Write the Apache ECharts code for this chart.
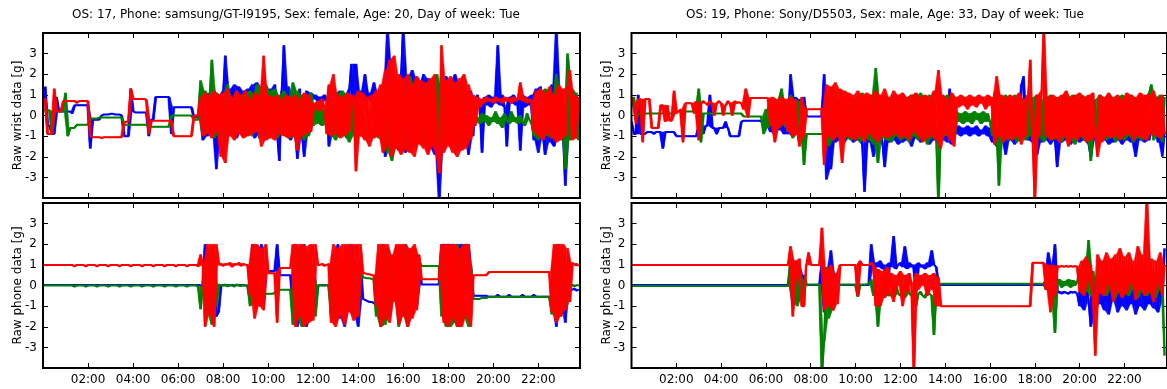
<!DOCTYPE html>
<html>
<head>
<meta charset="utf-8">
<script src="https://cdn.jsdelivr.net/npm/echarts@6/dist/echarts.min.js"></script>
<style>
  html, body { margin: 0; padding: 0; background: #fff; }
  #chart { width: 1167px; height: 389px; }
</style>
</head>
<body>
<div id="chart"></div>
<script>
// Accelerometer traces sampled every 0.1 h (6 min), one row of values per hour.
const SAMPLE_STEP_H = 0.1;

const titles = [
  'OS: 17, Phone: samsung/GT-I9195, Sex: female, Age: 20, Day of week: Tue',
  'OS: 19, Phone: Sony/D5503, Sex: male, Age: 33, Day of week: Tue'
];
const yNames = ['Raw wrist data [g]', 'Raw phone data [g]'];
const hourTicks = [2, 4, 6, 8, 10, 12, 14, 16, 18, 20, 22];
const gTicks = [-3, -2, -1, 0, 1, 2, 3];

// ---- Subject A, wrist sensor ----
const wristA_x = [
  0.9,1.4,-0.5,-0.5,-0.9,-0.9,0.9,0.2,0.2,0.2,
  0.2,0.2,0.2,0.1,0.5,0.5,0.5,0.5,0.5,0.5,
  0.5,-1.6,-0.2,-0.2,-0.2,-0.2,0.0,0.05,0.05,0.05,
  0.08,0.08,0.05,0.05,0.05,0.0,-1.0,-1.0,-1.0,1.3,
  0.2,0.15,0.15,0.15,0.15,0.15,0.15,-1.0,-0.2,-0.2,
  0.9,0.9,0.9,0.9,0.9,0.9,0.9,-0.9,0.4,0.4,
  0.4,0.4,0.4,0.4,0.4,0.4,0.4,-0.1,-0.1,0.0,
  1.0,-1.2,0.9,-1.0,1.1,-0.9,1.2,-2.6,1.0,-1.1,
  1.2,2.9,-1.0,1.3,-0.9,1.5,-1.1,1.4,-0.8,1.2,
  -1.0,1.3,-0.8,1.5,-1.1,1.6,-0.9,1.4,-1.0,1.2,
  -1.1,1.3,-0.9,1.5,-1.0,-2.2,1.2,3.4,-1.0,1.4,
  -1.2,1.0,-0.9,-2.1,1.3,-1.0,-2.0,1.2,-0.9,1.1,
  0.8,1.0,0.7,0.9,0.6,1.0,0.8,-1.5,1.2,-0.8,
  1.1,-1.0,1.2,-0.8,1.0,-1.1,1.3,2.5,-0.9,2.5,
  0.8,1.2,0.9,2.0,0.8,1.1,0.7,1.6,-0.5,1.0,
  -1.0,1.4,-2.0,4.3,-1.6,2.4,-1.5,1.8,-1.7,2.0,
  4.3,-1.8,1.9,-1.6,2.2,-1.5,1.8,-1.3,1.6,2.0,
  -1.5,1.8,-1.6,1.7,-1.9,1.5,-4.3,1.6,-1.5,1.9,
  -1.4,1.7,-1.6,2.0,-1.7,1.6,-1.5,1.8,-1.2,-1.9,
  1.2,-1.0,0.6,1.0,0.4,-1.8,0.9,0.5,1.0,0.4,
  0.9,0.6,3.4,0.5,1.0,0.4,-1.5,0.9,0.6,1.0,
  0.5,0.8,-1.7,1.0,0.4,0.9,0.5,1.0,-1.2,1.3,
  -1.8,1.4,-1.0,-1.9,1.2,-1.3,1.5,-1.5,4.3,-1.0,
  1.3,-1.2,-3.4,2.8,-1.0,1.2,-1.1,1.0,-0.9
];
const wristA_y = [
  0.25,0.25,0.25,0.25,-0.9,0.2,0.2,0.2,0.2,0.2,
  1.1,-1.0,-0.6,-0.6,-0.6,-0.45,-0.45,-0.45,-0.45,-0.45,
  -0.45,-0.15,-0.15,-0.15,-0.15,-0.1,-0.1,-0.1,-0.1,-0.1,
  -0.1,-0.1,-0.1,-0.1,-0.1,-0.1,-0.45,-0.45,-0.45,-0.45,
  -0.45,-0.45,-0.45,-0.45,-0.45,-0.45,-0.45,-0.55,-0.55,-0.55,
  -0.55,-0.55,-0.55,-0.55,-0.55,-0.55,-0.55,0.0,0.0,0.0,
  0.0,0.0,0.0,0.0,0.0,0.0,0.0,-0.2,-0.2,-0.2,
  1.7,-1.0,1.2,-0.9,1.0,2.7,-1.1,1.1,-0.9,1.0,
  -1.1,1.2,1.5,-1.0,0.9,-1.1,1.2,-0.8,1.0,-1.0,
  1.1,-0.9,1.2,-1.0,1.0,1.5,-1.1,1.4,-0.9,1.5,
  -1.0,1.2,-0.8,1.3,-1.1,1.0,-0.9,1.2,-1.0,0.9,
  -1.1,1.6,-1.0,1.2,-0.9,1.0,-1.2,0.9,-1.0,1.1,
  -0.5,0.4,-0.4,0.5,-0.5,0.3,-0.4,1.3,-1.0,1.0,
  -1.2,1.1,-0.9,1.2,-1.0,1.0,-1.3,0.9,-1.0,0.8,
  -0.6,-1.0,-0.5,-0.9,-0.7,-1.0,-0.6,-0.9,-0.5,-1.1,
  1.2,-1.4,1.6,-1.8,1.5,-2.2,1.4,-1.5,1.7,-1.3,
  1.5,-1.6,1.2,1.9,-1.5,1.4,-1.2,1.6,-1.4,1.3,
  -1.5,1.6,-1.3,1.4,-1.6,2.0,-1.4,1.3,-1.5,1.2,
  -1.3,1.5,-1.6,1.4,-1.2,1.6,-1.5,1.3,-1.4,1.2,
  -1.0,0.9,-0.3,-0.1,-0.4,0.1,-0.3,0.0,-0.5,-0.1,
  -0.3,0.2,-0.4,-0.1,-0.6,0.1,-0.2,-0.4,0.2,-0.3,
  -0.1,-0.4,0.0,-0.3,-0.5,0.1,-0.2,-0.4,-1.0,1.0,
  -1.2,1.1,-0.9,1.3,-1.0,1.2,-1.1,1.0,2.0,-1.2,
  1.1,-1.0,-2.6,3.0,-1.2,1.3,-1.0,1.1,-1.2
];
const wristA_z = [
  0.8,0.8,-0.9,-0.9,-0.9,1.3,0.2,0.2,0.2,0.7,
  0.7,0.7,0.7,0.7,0.7,0.6,0.7,0.7,0.7,0.7,
  0.7,-1.0,-1.05,-1.05,-1.05,-1.05,-1.1,-1.05,-1.05,-1.05,
  -1.05,-1.05,-1.05,-1.05,-1.05,-1.05,-0.3,-0.3,-0.3,1.3,
  0.8,0.8,0.8,0.8,0.8,0.8,0.75,-0.9,-0.25,-0.25,
  -0.25,-0.25,-0.25,-0.25,-0.25,-0.25,-0.25,-0.25,-1.0,-1.0,
  -1.0,-1.0,-1.0,-1.0,-1.0,-1.0,-1.0,0.0,0.0,0.0,
  0.9,-1.0,1.1,-0.9,1.0,-1.1,1.2,-0.8,1.0,-2.0,
  1.1,-2.3,1.3,-1.0,0.9,-1.2,1.2,-0.9,1.0,-1.1,
  1.2,-1.0,0.8,-0.9,1.1,-0.8,1.0,-1.5,2.9,-1.2,
  1.0,-1.1,0.9,-1.2,1.0,-0.9,0.8,-1.0,1.0,-1.1,
  0.9,-1.0,1.0,-1.7,0.8,-1.0,1.1,-0.9,1.0,-0.8,
  0.6,0.3,0.7,0.2,0.8,0.4,-0.9,1.5,-1.0,2.0,
  -0.9,1.0,-1.1,0.9,-1.0,1.1,-0.8,1.0,0.9,-2.7,
  1.2,-1.0,1.1,-1.2,0.9,-1.5,1.0,-1.1,1.2,-1.0,
  1.5,-1.8,2.2,-1.5,2.7,-2.0,2.9,-1.6,2.0,-1.9,
  1.8,-1.7,2.0,-1.8,1.5,-2.0,1.9,-1.4,1.7,-1.6,
  1.6,-1.9,1.8,-1.5,2.0,-2.0,-2.8,3.4,-1.8,1.7,
  -1.5,1.9,-1.8,1.6,-2.0,1.8,-1.7,2.0,-1.6,1.5,
  -1.2,1.0,-0.5,0.9,0.4,0.8,0.6,0.9,0.7,0.8,
  0.6,0.9,0.7,0.8,0.6,0.9,0.7,0.85,0.6,0.9,
  0.7,0.8,1.6,0.7,0.9,0.6,0.8,0.7,-0.8,1.2,
  -1.0,1.3,-1.2,1.1,-0.9,1.4,-1.1,1.0,-1.3,1.5,
  -1.2,1.3,-1.0,1.4,2.2,-1.2,1.0,-1.1,0.9
];

// ---- Subject B, wrist sensor ----
const wristB_x = [
  -0.3,-0.9,-0.9,1.0,-0.9,-0.9,-0.9,-0.8,-0.8,-0.8,
  -0.9,-0.8,-0.8,-0.8,-1.6,-0.8,-0.8,-0.8,-0.8,-0.8,
  -1.0,-1.0,-1.0,-1.0,-1.0,-1.0,-1.0,-1.0,-1.0,-1.0,
  -0.5,-0.5,-0.9,-0.5,-0.5,1.0,-0.6,-0.6,-0.9,-0.6,
  -0.6,-0.6,-0.3,-0.6,-1.0,-1.0,-1.0,-1.0,-1.0,-0.3,
  -0.25,-0.25,-0.25,-0.25,-0.25,-0.25,-0.25,-0.25,-0.3,-0.25,
  -0.5,-0.3,-0.8,-0.4,-0.9,-0.5,-0.7,-0.3,-0.9,-0.6,
  -0.9,2.0,-1.0,0.9,-0.9,0.8,-1.0,0.9,-0.05,-0.05,
  -0.05,-0.05,-0.05,-0.05,-0.05,-0.05,2.0,-3.1,-1.2,-2.6,
  -0.5,-1.3,-0.4,-1.2,-0.6,-1.3,-0.5,-1.1,-0.7,-1.3,
  -0.5,-1.2,-0.6,-1.4,-3.7,-0.8,-1.3,-0.5,-2.0,-0.9,
  -1.2,-0.6,-1.4,-2.5,-0.7,-1.3,-0.5,-1.2,-0.8,-1.4,
  -0.6,-1.3,-0.5,-1.2,-0.8,-1.5,-0.6,-1.1,-0.7,-1.3,
  -0.5,-1.2,-0.6,-1.4,-0.7,-1.2,-0.6,-1.3,-0.5,-1.2,
  -0.6,-1.3,1.3,-1.4,-0.6,-0.9,-0.5,-1.0,-0.6,-0.9,
  -0.5,-1.0,-0.6,-0.9,-0.5,-1.0,-0.7,-0.9,-0.5,-1.0,
  -0.6,-1.3,-0.7,-1.5,-0.6,-1.2,-0.8,-1.9,-0.6,-1.2,
  -0.7,-1.4,-0.5,-1.2,1.5,1.9,-0.6,-1.2,-0.7,-1.3,
  -0.6,-1.9,-0.5,-1.3,-0.7,-1.2,-0.6,-1.4,-0.5,-1.2,
  -2.5,-0.7,-1.3,-0.6,-1.2,-0.8,-1.4,-0.6,-1.2,-0.7,
  -1.3,-0.5,-1.2,-0.8,-1.4,-2.0,-0.6,-1.2,-0.7,-1.3,
  -0.6,-1.2,-0.7,-1.4,-0.5,-1.3,-0.8,-1.2,-0.6,-1.4,
  -0.7,-1.2,-0.5,-1.3,-0.8,-2.0,-0.6,-1.2,-0.7,-1.3,
  -0.6,-1.2,-0.8,1.0,-0.7,-1.3,-0.6,-2.0,-0.8
];
const wristB_y = [
  0.5,0.9,-0.2,0.1,0.1,0.1,0.1,0.1,0.1,0.1,
  0.1,0.1,0.1,0.1,0.1,0.1,0.1,0.1,0.1,0.15,
  0.2,0.2,0.2,0.2,0.2,0.2,0.2,0.2,0.2,0.2,
  1.3,-1.3,0.1,0.1,0.1,0.1,0.1,0.1,0.1,0.1,
  0.1,0.1,0.1,0.1,0.1,0.1,0.1,0.1,0.1,0.1,
  -0.05,-0.05,-0.05,-0.05,-0.05,-0.05,-0.05,-0.05,-0.05,-0.9,
  0.3,-0.6,0.8,-0.4,0.5,-0.7,0.9,1.3,-0.5,0.4,
  -0.8,1.0,-1.1,0.8,-0.9,0.7,-1.0,-2.4,-0.9,-0.9,
  -0.9,-0.9,-0.9,-0.9,-0.9,-0.9,-0.9,1.0,-1.5,0.9,
  -1.2,1.0,-1.0,0.8,-1.3,0.9,-1.1,1.0,-1.2,0.8,
  -1.0,0.9,-1.3,1.1,-1.0,0.8,-1.2,1.0,-1.4,2.3,
  -2.3,0.9,-1.1,1.0,-1.2,0.8,-1.3,1.0,-1.0,0.9,
  -1.2,1.0,-1.1,0.9,-1.3,1.0,-1.0,0.9,-1.2,1.1,
  -1.0,0.9,-1.4,1.0,-1.1,0.8,-1.2,-4.3,-1.0,0.9,
  -1.0,1.0,-0.8,0.9,-1.2,0.2,-0.3,0.1,-0.4,0.2,
  -0.3,0.1,-0.4,0.2,-0.2,0.1,-0.4,0.2,-0.3,0.1,
  -0.3,-1.0,1.1,-1.0,-3.4,0.9,-1.1,1.0,-1.2,0.8,
  -1.0,1.0,-1.3,0.9,-1.1,0.8,-1.2,1.0,-1.0,0.9,
  -1.2,1.0,-1.1,0.8,-1.3,0.9,-1.0,1.0,-1.2,0.9,
  -1.1,0.8,-1.3,1.0,-1.0,0.9,-1.2,1.0,-1.4,0.8,
  -1.0,1.0,-1.2,0.9,-1.1,-2.2,-1.0,0.8,-1.3,1.0,
  -1.1,0.9,-1.2,1.0,-1.0,0.8,-1.3,0.9,-1.1,1.0,
  -1.2,0.9,-1.0,1.0,-1.3,0.8,-1.1,1.0,-1.2,0.9,
  -1.0,1.1,1.5,-1.2,0.9,-1.0,1.0,-1.3,0.9
];
const wristB_z = [
  0.9,0.5,-0.4,0.8,0.8,-1.3,0.8,0.8,0.8,-0.6,
  -0.6,-0.6,-0.6,0.5,0.5,-0.3,0.5,-0.25,-0.25,1.2,
  0.1,0.2,0.3,-1.3,0.6,0.6,0.6,0.6,0.1,0.7,
  -1.2,0.6,0.7,0.6,0.5,0.7,0.6,0.0,0.6,0.7,
  0.6,0.0,0.5,0.7,0.6,0.0,0.7,0.6,0.65,0.6,
  0.3,1.3,-0.1,0.85,0.85,0.85,0.85,0.85,0.85,0.85,
  0.85,0.85,-0.5,0.9,-1.3,0.8,-0.6,0.9,-0.4,0.8,
  -0.8,0.9,-1.0,0.8,-0.9,-1.5,0.9,-1.0,0.3,0.3,
  0.3,0.3,0.3,0.3,0.3,0.35,-2.4,1.5,-1.0,1.4,
  -1.2,1.6,-1.0,1.3,-2.3,1.2,-1.0,1.1,-1.1,1.0,
  -1.2,1.2,-1.0,1.0,-1.3,1.1,-0.9,1.0,-1.1,1.2,
  -1.3,1.0,-1.0,1.3,-1.1,0.9,-1.0,1.2,-0.9,1.0,
  -1.1,1.1,-1.0,0.9,-1.2,1.0,-0.8,1.1,-1.0,0.9,
  -1.3,1.0,-1.1,0.9,-1.0,1.2,-1.2,2.2,-1.6,1.0,
  -0.9,0.8,-1.2,1.1,-1.5,0.9,0.4,1.0,0.5,0.9,
  0.3,1.0,0.5,0.9,0.4,1.0,0.6,0.9,0.3,1.0,
  0.5,0.9,-1.4,1.9,-1.0,1.0,-1.3,0.9,-1.1,1.0,
  -1.2,0.9,-1.0,1.1,-1.4,0.8,-1.0,1.0,2.7,-1.2,
  -4.3,1.0,-1.0,1.2,4.3,-1.0,0.9,-1.2,1.0,-1.1,
  0.9,-1.3,1.0,-1.0,1.2,-1.5,0.9,-1.1,1.0,-1.2,
  1.1,-1.0,0.9,-1.3,1.0,-1.2,1.1,-1.0,-2.0,1.0,
  -1.3,0.9,-1.0,1.1,-1.1,0.9,-1.0,1.0,-1.2,0.8,
  -1.0,1.1,-0.9,1.0,-1.2,0.9,-1.0,1.1,-1.1,1.0,
  -1.2,1.0,-0.9,1.2,-1.0,0.8,-1.1,1.0,-0.9
];

// ---- Subject A, phone sensor (saturates at ±2 g) ----
const phoneA_x = [
  0.02,0.02,0.02,0.02,0.02,0.02,0.02,0.02,0.02,0.02,
  0.02,0.02,0.02,0.02,0.02,0.02,0.02,0.02,0.02,0.02,
  0.02,0.02,0.02,0.02,0.02,0.02,0.02,0.02,0.02,0.02,
  0.02,0.02,0.02,0.02,0.02,0.02,0.02,0.02,0.02,0.02,
  0.02,0.02,0.02,0.02,0.02,0.02,0.02,0.02,0.02,0.02,
  0.02,0.02,0.02,0.02,0.02,0.02,0.02,0.02,0.02,0.02,
  0.02,0.02,0.02,0.02,0.02,0.02,0.02,0.02,0.02,0.02,
  0.0,0.0,2.0,-1.2,1.5,-1.0,0.8,-1.5,-1.3,0.0,
  0.02,0.0,0.03,0.0,0.02,0.0,0.03,0.0,0.02,0.0,
  0.0,0.0,-0.7,2.0,-1.0,1.6,-0.8,2.0,-1.0,0.7,
  0.7,0.7,0.7,0.7,2.0,0.5,0.5,0.5,0.5,0.5,
  0.5,-1.0,2.0,-2.0,1.8,-1.5,2.0,-2.0,1.0,-1.6,
  1.0,-1.2,0.0,0.0,0.02,0.0,0.02,0.0,-1.0,1.5,
  -1.2,2.0,-1.6,1.0,-2.0,1.8,-1.2,2.0,-1.4,1.0,
  -2.0,1.2,-0.65,-0.7,-0.75,-0.8,-0.8,-0.85,-1.0,1.5,
  -1.8,2.0,-1.2,1.8,-1.5,1.0,-0.6,1.9,-1.6,1.5,
  -1.2,2.0,-1.8,1.6,-1.4,1.8,-1.0,1.3,0.05,0.05,
  0.05,0.05,0.05,0.05,0.05,0.05,0.05,2.0,-1.6,2.0,
  -1.8,2.0,-1.4,2.0,-2.0,2.0,-1.7,2.0,-1.4,2.0,
  1.0,-0.5,-0.5,-0.5,-0.5,-0.5,-0.5,-0.5,-0.55,-0.55,
  -0.55,-0.55,-0.45,-0.55,-0.55,-0.55,-0.55,-0.45,-0.55,-0.55,
  -0.55,-0.55,-0.55,-0.45,-0.55,-0.55,-0.55,-0.55,-0.45,-0.55,
  -0.55,-0.55,-0.55,-0.55,-0.55,-0.55,-1.0,1.5,-2.0,2.0,
  -1.0,1.6,-1.8,1.0,-0.3,-0.2,-0.15,-0.25,-0.2
];
const phoneA_y = [
  0.0,0.0,0.0,0.0,0.0,0.0,0.0,0.0,0.0,0.0,
  0.0,0.0,0.0,0.0,-0.06,0.0,0.0,0.0,0.0,-0.06,
  0.0,0.0,0.0,0.0,-0.06,0.0,0.0,0.0,0.0,-0.06,
  0.0,0.0,0.0,0.0,-0.06,0.0,0.0,0.0,0.0,-0.06,
  0.0,0.0,0.0,0.0,-0.06,0.0,0.0,0.0,0.0,-0.06,
  0.0,0.0,0.0,0.0,-0.06,0.0,0.0,0.0,0.0,-0.06,
  0.0,0.0,0.0,0.0,-0.06,0.0,0.0,0.0,0.0,-0.06,
  -1.15,0.0,1.0,-1.4,1.8,-1.9,1.2,-1.0,0.05,0.0,
  0.0,0.05,-0.05,0.03,0.0,-0.05,0.05,0.0,-0.03,0.04,
  0.0,0.0,-1.0,1.0,-0.7,1.2,-1.0,0.8,-0.5,-0.4,
  -0.4,-0.4,-0.4,-0.35,-0.3,-0.2,-0.2,-0.2,-0.2,-0.2,
  -0.2,-1.9,1.8,-1.6,1.5,-2.0,1.2,-1.8,1.6,-1.0,
  1.0,-1.5,0.0,0.02,0.0,0.0,0.02,0.0,-1.6,1.2,
  -1.8,1.6,-1.3,1.0,-1.5,1.5,-0.8,1.2,-1.5,1.0,
  -1.2,0.8,0.4,0.38,0.35,0.35,0.32,0.3,-1.5,1.2,
  -2.0,1.5,-1.9,1.8,-1.2,1.0,-0.5,1.5,-2.0,1.9,
  -1.5,1.7,-2.0,1.5,-1.2,1.8,-1.0,1.2,0.95,0.95,
  0.95,0.95,0.95,0.95,0.95,0.95,0.95,-1.5,1.6,-2.0,
  1.8,-2.0,1.5,-1.8,2.0,-2.0,1.4,-1.6,2.0,-2.0,
  1.0,-0.65,-0.65,-0.65,-0.65,-0.6,-0.6,-0.6,-0.55,-0.55,
  -0.55,-0.55,-0.55,-0.55,-0.55,-0.55,-0.55,-0.55,-0.55,-0.55,
  -0.55,-0.55,-0.55,-0.55,-0.55,-0.55,-0.55,-0.55,-0.55,-0.55,
  -0.55,-0.55,-0.55,-0.55,-0.55,-0.55,-1.4,1.2,-1.6,1.0,
  -1.5,1.2,-0.8,0.6,0.0,0.05,-0.05,0.02,0.0
];
const phoneA_z = [
  1.0,1.0,1.0,1.0,1.0,1.0,1.0,1.0,1.0,1.0,
  1.0,1.0,1.0,1.0,0.92,1.0,1.0,1.0,1.0,0.92,
  1.0,1.0,1.0,1.0,0.92,1.0,1.0,1.0,1.0,0.92,
  1.0,1.0,1.0,1.0,0.92,1.0,1.0,1.0,1.0,0.92,
  1.0,1.0,1.0,1.0,0.92,1.0,1.0,1.0,1.0,0.92,
  1.0,1.0,1.0,1.0,0.92,1.0,1.0,1.0,1.0,0.92,
  1.0,1.0,1.0,1.0,0.92,1.0,1.0,1.0,1.0,0.92,
  1.5,1.0,-2.0,2.0,-1.4,2.0,-2.0,2.0,1.0,1.05,
  0.95,1.05,1.0,1.1,0.9,1.05,1.0,1.1,0.95,1.05,
  1.0,1.0,-0.5,2.0,-1.6,2.0,-1.0,1.8,-1.2,2.0,
  0.6,0.6,0.6,0.6,-1.8,0.85,0.85,0.85,0.85,0.85,
  0.85,2.0,-2.0,2.0,-1.5,2.0,-2.0,1.9,-1.8,2.0,
  -1.7,2.0,1.0,1.0,1.05,0.95,1.0,1.05,-1.8,2.0,
  -2.0,1.8,-1.5,2.0,-1.9,2.0,-1.3,2.0,-1.7,2.0,
  -1.5,2.0,0.6,0.6,0.55,0.55,0.5,0.5,-1.0,2.0,
  -2.0,2.0,-1.6,2.0,-1.8,1.5,-0.8,2.0,-1.9,2.0,
  -1.5,2.0,-2.0,1.8,-1.6,2.0,-1.2,1.5,0.3,0.3,
  0.3,0.3,0.3,0.3,0.3,0.3,0.3,2.0,-1.8,2.0,
  -2.0,2.0,-1.6,2.0,-2.0,1.8,-2.0,2.0,-1.5,2.0,
  -2.0,0.5,0.5,0.5,0.5,0.5,0.5,0.5,0.65,0.65,
  0.65,0.65,0.65,0.65,0.65,0.65,0.65,0.65,0.65,0.65,
  0.65,0.65,0.65,0.65,0.65,0.65,0.65,0.65,0.65,0.65,
  0.65,0.65,0.65,0.65,0.65,0.65,-1.3,2.0,-1.8,2.0,
  -1.5,2.0,-1.2,1.8,-0.8,1.1,1.0,1.05,0.95
];

// ---- Subject B, phone sensor ----
const phoneB_x = [
  0.03,0.03,0.03,0.03,0.03,0.03,0.03,0.03,0.03,0.03,
  0.03,0.03,0.03,0.03,0.03,0.03,0.03,0.03,0.03,0.03,
  0.03,0.03,0.03,0.03,0.03,0.03,0.03,0.03,0.03,0.03,
  0.03,0.03,0.03,0.03,0.03,0.03,0.03,0.03,0.03,0.03,
  0.03,0.03,0.03,0.03,0.03,0.03,0.03,0.03,0.03,0.03,
  0.03,0.03,0.03,0.03,0.03,0.03,0.03,0.03,0.03,0.03,
  0.03,0.03,0.03,0.03,0.03,0.03,0.03,0.03,0.03,0.03,
  0.03,0.8,-1.0,1.2,-0.8,0.9,-0.6,0.5,0.03,0.03,
  0.03,0.03,0.03,0.03,0.03,1.2,-1.3,0.8,-1.0,1.7,
  -0.8,0.6,0.1,0.03,0.03,0.03,0.03,0.03,0.03,0.03,
  0.03,0.03,0.03,0.03,0.03,0.03,0.03,2.0,0.8,1.1,
  0.9,1.2,0.8,1.0,-0.5,1.1,0.9,2.4,0.8,1.0,
  1.1,0.9,1.9,0.8,1.1,0.9,1.0,-0.3,1.1,0.9,
  1.0,0.8,1.1,0.9,1.7,1.0,0.9,0.03,0.03,0.03,
  0.03,0.03,0.03,0.03,0.03,0.03,0.03,0.03,0.03,0.03,
  0.03,0.03,0.03,0.03,0.03,0.03,0.03,0.03,0.03,0.03,
  0.03,0.03,0.03,0.03,0.03,0.03,0.03,0.03,0.03,0.03,
  0.03,0.03,0.03,0.03,0.03,0.03,0.03,0.03,0.03,0.03,
  0.03,0.03,0.03,0.03,0.03,0.3,1.6,0.3,1.0,2.0,
  -0.35,-0.3,-0.4,-0.3,-0.35,-0.4,-0.3,-0.35,-0.3,-0.4,
  -1.0,0.2,-1.2,0.4,-0.8,-2.0,0.3,-1.3,0.5,-0.9,
  0.3,-1.2,0.6,-1.4,0.2,-0.8,0.5,-1.3,0.4,-1.0,
  0.6,-1.2,0.3,-0.9,0.5,-1.4,0.4,-1.0,0.8,-1.2,
  0.5,-0.9,0.7,-1.1,0.3,-1.3,0.6,-0.8,1.8
];
const phoneB_y = [
  -0.03,-0.03,-0.03,-0.03,-0.03,-0.03,-0.03,-0.03,-0.03,-0.03,
  -0.03,-0.03,-0.03,-0.03,-0.03,-0.03,-0.03,-0.03,-0.03,-0.03,
  -0.03,-0.03,-0.03,-0.03,-0.03,-0.03,-0.03,-0.03,-0.03,-0.03,
  -0.03,-0.03,-0.03,-0.03,-0.03,-0.03,-0.03,-0.03,-0.03,-0.03,
  -0.03,-0.03,-0.03,-0.03,-0.03,-0.03,-0.03,-0.03,-0.03,-0.03,
  -0.03,-0.03,-0.03,-0.03,-0.03,-0.03,-0.03,-0.03,-0.03,-0.03,
  -0.03,-0.03,-0.03,-0.03,-0.03,-0.03,-0.03,-0.03,-0.03,-0.03,
  -0.03,1.3,-0.8,1.0,-1.0,0.7,-0.6,0.3,0.0,0.05,
  0.05,0.05,0.05,0.05,0.05,-4.3,-2.7,0.9,-1.6,0.5,
  -1.2,0.3,0.0,0.05,0.05,0.05,0.05,0.05,0.05,0.05,
  0.05,-0.55,0.05,0.05,0.05,0.06,0.07,0.3,-0.5,-0.3,
  -2.0,-0.3,-0.6,0.2,-0.4,-0.5,-0.3,-0.6,0.1,-0.4,
  -0.5,-0.3,-0.6,0.2,-0.4,-0.5,-0.2,-1.0,-0.4,-0.3,
  -0.5,-0.6,-0.3,-0.4,-0.5,-2.4,-0.3,0.08,0.08,0.08,
  0.08,0.08,0.08,0.08,0.08,0.08,0.08,0.08,0.08,0.08,
  0.08,0.08,0.08,0.08,0.08,0.08,0.08,0.08,0.08,0.08,
  0.08,0.08,0.08,0.08,0.08,0.08,0.08,0.08,0.08,0.08,
  0.08,0.08,0.08,0.08,0.08,0.08,0.08,0.08,0.08,0.08,
  0.08,0.08,0.08,0.08,0.08,-0.2,0.3,-0.5,0.2,-2.3,
  0.1,0.3,-0.1,0.2,0.0,0.3,-0.1,0.25,0.0,0.2,
  0.8,-0.4,0.6,-0.3,2.2,-0.5,0.7,0.0,-0.4,0.6,
  -0.3,0.8,-0.5,0.5,-0.2,0.7,-0.6,0.4,-0.3,0.8,
  -0.4,0.6,-0.5,0.9,-0.2,0.5,-0.6,0.7,-0.3,0.6,
  -0.5,0.8,-0.3,0.5,-0.6,0.7,-0.2,0.4,-3.4
];
const phoneB_z = [
  1.0,1.0,1.0,1.0,1.0,1.0,1.0,1.0,1.0,1.0,
  1.0,1.0,1.0,1.0,1.0,1.0,1.0,1.0,1.0,1.0,
  1.0,1.0,1.0,1.0,1.0,1.0,1.0,1.0,1.0,1.0,
  1.0,1.0,1.0,1.0,1.0,1.0,1.0,1.0,1.0,1.0,
  1.0,1.0,1.0,1.0,1.0,1.0,1.0,1.0,1.0,1.0,
  1.0,1.0,1.0,1.0,1.0,1.0,1.0,1.0,1.0,1.0,
  1.0,1.0,1.0,1.0,1.0,1.0,1.0,1.0,1.0,1.0,
  1.0,1.9,-1.5,1.2,0.4,1.3,-1.0,-1.0,1.0,1.6,
  1.0,1.0,1.0,1.0,1.0,2.8,-1.2,0.8,-1.0,1.0,
  -1.2,0.6,-0.9,1.0,1.0,1.0,1.0,1.0,1.0,1.0,
  1.0,-0.5,1.2,1.0,1.0,1.0,1.0,1.1,1.0,-1.0,
  0.8,-1.0,0.7,-0.6,0.9,-0.4,0.6,-0.8,0.5,0.0,
  0.7,-1.0,0.5,-0.3,0.6,0.1,-4.3,0.6,-0.2,0.5,
  0.0,0.6,-0.5,0.5,-0.2,0.6,-1.0,0.4,-1.0,-1.0,
  -1.0,-1.0,-1.0,-1.0,-1.0,-1.0,-1.0,-1.0,-1.0,-1.0,
  -1.0,-1.0,-1.0,-1.0,-1.0,-1.0,-1.0,-1.0,-1.0,-1.0,
  -1.0,-1.0,-1.0,-1.0,-1.0,-1.0,-1.0,-1.0,-1.0,-1.0,
  -1.0,-1.0,-1.0,-1.0,-1.0,-1.0,-1.0,-1.0,-1.0,1.1,
  1.1,1.1,1.1,1.1,1.1,-0.2,1.0,-1.3,1.0,-0.5,
  0.95,0.9,0.95,0.9,0.95,0.9,0.95,0.9,0.95,0.9,
  -0.3,1.2,-0.5,1.4,0.2,1.0,-0.6,-3.4,1.5,-0.4,
  1.2,-0.5,1.6,0.0,1.3,-0.8,1.5,-0.3,1.8,-0.6,
  1.4,-0.4,1.6,0.1,1.2,-0.7,1.9,-0.2,1.5,-0.5,
  4.3,-0.3,1.3,-0.8,1.2,0.0,1.6,-0.5,1.0
];

// Panel layout: row 0 = wrist, row 1 = phone; column per subject
const panels = [
  { row: 0, col: 0, x: wristA_x, y: wristA_y, z: wristA_z },
  { row: 0, col: 1, x: wristB_x, y: wristB_y, z: wristB_z },
  { row: 1, col: 0, x: phoneA_x, y: phoneA_y, z: phoneA_z },
  { row: 1, col: 1, x: phoneB_x, y: phoneB_y, z: phoneB_z }
];

const colLeft = [43, 631.5];
const colWidth = 537;
const colHourMax = [23.85, 23.9];
const rowTop = [33, 203];
const rowHeight = 165;
const axisColors = ['#0000ff', '#008000', '#ff0000'];
const FONT = 'DejaVu Sans';
// How far the shaded wedge's base corners are pulled in toward the apex.
const SWEEP_INSET = 0.4;

function toPoints(vals) {
  return vals.map((v, i) => [+(i * SAMPLE_STEP_H).toFixed(2), v]);
}
function hourLabel(h) {
  return (h < 10 ? '0' : '') + h + ':00';
}

// Shades the wedge between each pair of consecutive trace segments, so that
// rapidly oscillating stretches read as a solid band, as in a dense raw trace.
function sweepRenderer(points, color) {
  return function (params, api) {
    const i = params.dataIndex;
    if (i + 2 >= points.length) return null;
    const a = api.coord(points[i]);
    const b = api.coord(points[i + 1]);
    const c = api.coord(points[i + 2]);
    const pts = [
      [a[0] + SWEEP_INSET * (b[0] - a[0]), a[1]],
      b,
      [c[0] - SWEEP_INSET * (c[0] - b[0]), c[1]]
    ];
    return {
      type: 'polygon',
      shape: { points: pts },
      style: { fill: color, stroke: color, lineWidth: 0.5 }
    };
  };
}

const grid = [], xAxis = [], yAxis = [], series = [];
panels.forEach((p, g) => {
  grid.push({
    left: colLeft[p.col], top: rowTop[p.row], width: colWidth, height: rowHeight,
    show: true, borderColor: '#000', borderWidth: 2, backgroundColor: 'transparent', z: 10
  });
  ['bottom', 'top'].forEach(pos => {
    xAxis.push({
      gridIndex: g, type: 'value', position: pos,
      min: 0, max: colHourMax[p.col],
      axisLine: { show: false, onZero: false }, splitLine: { show: false },
      axisTick: { show: true, inside: true, length: 5, customValues: hourTicks,
                  lineStyle: { color: '#000', width: 1 } },
      axisLabel: { show: pos === 'bottom' && p.row === 1, customValues: hourTicks,
                   formatter: hourLabel, color: '#000', fontSize: 12, fontFamily: FONT, margin: 6 }
    });
  });
  ['left', 'right'].forEach(pos => {
    yAxis.push({
      gridIndex: g, type: 'value', position: pos, min: -4, max: 4,
      axisLine: { show: false, onZero: false }, splitLine: { show: false },
      axisTick: { show: true, inside: true, length: 5, customValues: gTicks,
                  lineStyle: { color: '#000', width: 1 } },
      axisLabel: { show: pos === 'left', customValues: gTicks, color: '#000',
                   fontSize: 12, fontFamily: FONT, margin: 6 }
    });
  });
  [p.x, p.y, p.z].forEach((vals, k) => {
    const pts = toPoints(vals);
    series.push({
      type: 'custom', xAxisIndex: g * 2, yAxisIndex: g * 2,
      data: pts, encode: { x: 0, y: 1 }, clip: true, silent: true,
      renderItem: sweepRenderer(pts, axisColors[k]),
      z: 2 + k * 2
    });
    series.push({
      type: 'line', xAxisIndex: g * 2, yAxisIndex: g * 2,
      data: pts, showSymbol: false, symbol: 'none',
      lineStyle: { color: axisColors[k], width: 2 },
      itemStyle: { color: axisColors[k] },
      z: 3 + k * 2, clip: true, silent: true
    });
  });
});

// Titles above each column and rotated y-axis captions beside each panel
const graphic = titles.map((t, i) => ({
  type: 'text', x: [296, 885][i], y: 15,
  style: { text: t, textAlign: 'center', textVerticalAlign: 'middle',
           font: '12px "DejaVu Sans"', fill: '#000' }
}));
panels.forEach(p => {
  graphic.push({
    type: 'text', x: colLeft[p.col] - 25, y: rowTop[p.row] + rowHeight / 2,
    rotation: Math.PI / 2,
    style: { text: yNames[p.row], textAlign: 'center', textVerticalAlign: 'middle',
             font: '12px "DejaVu Sans"', fill: '#000' }
  });
});

const chart = echarts.init(document.getElementById('chart'), null, { renderer: 'canvas' });
chart.setOption({
  animation: false,
  backgroundColor: '#fff',
  grid, xAxis, yAxis, series, graphic
});
</script>
</body>
</html>
